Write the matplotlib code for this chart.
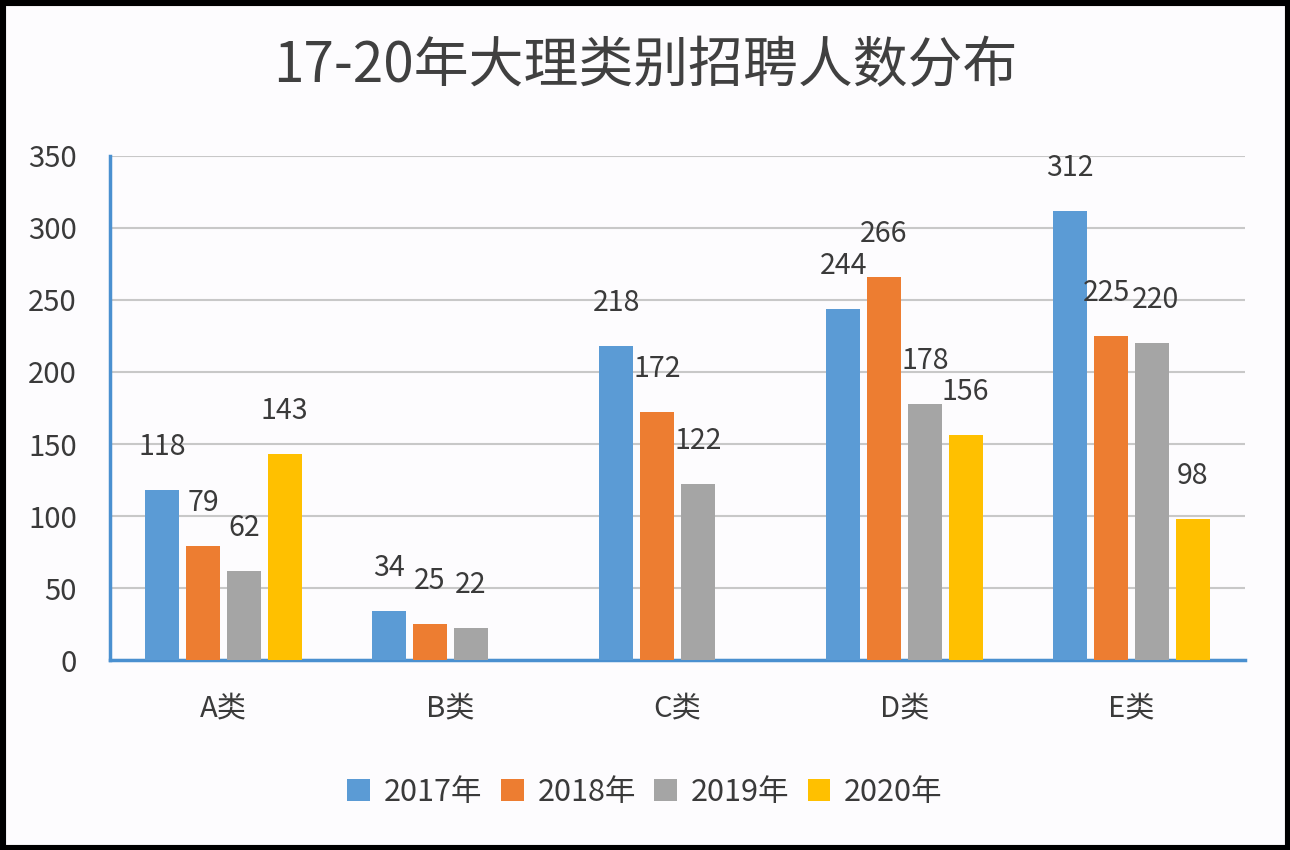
import matplotlib
matplotlib.use("Agg")
import matplotlib.pyplot as plt
import numpy as np

plt.rcParams['font.family'] = ['Noto Sans CJK SC', 'DejaVu Sans']

categories = ["A类", "B类", "C类", "D类", "E类"]
series_names = ["2017年", "2018年", "2019年", "2020年"]
v2017 = [118, 34, 218, 244, 312]
v2018 = [79, 25, 172, 266, 225]
v2019 = [62, 22, 122, 178, 220]
v2020 = [143, None, None, 156, 98]
yticks = [0, 50, 100, 150, 200, 250, 300, 350]
title = "17-20年大理类别招聘人数分布"

colors = ["#5b9bd5", "#ed7d31", "#a5a5a5", "#ffc000"]
series = [v2017, v2018, v2019, v2020]

fig = plt.figure(figsize=(12.9, 8.5), dpi=100)
fig.patch.set_facecolor("#fdfcfe")
ax = fig.add_axes([0.0853, 0.2235, 0.8797, 0.593])
ax.set_facecolor("#fdfcfe")

x = np.arange(len(categories))
slot = 0.18
width = 0.15
text_color = "#3a3a3a"
for i, (vals, c, name) in enumerate(zip(series, colors, series_names)):
    xs = [xi + (i - 1.5) * slot for xi, v in zip(x, vals) if v is not None]
    ys = [v for v in vals if v is not None]
    ax.bar(xs, ys, width=width, color=c, label=name, zorder=3)
    for j, (xx, yy) in enumerate(zip(xs, ys)):
        dx = 0
        # small nudge in the crowded E group so the two labels just meet
        if j == len(xs) - 1 and i == 1:
            dx = -3
        if j == len(xs) - 1 and i == 2:
            dx = 3
        ax.annotate(str(yy), (xx, yy), xytext=(dx, 31), textcoords="offset points",
                    ha="center", va="center", fontsize=20.5, color=text_color, zorder=4)

ax.set_xlim(-0.5, len(categories) - 0.5)
ax.set_ylim(0, 350)
ax.set_yticks(yticks)
ax.set_yticklabels([str(t) for t in yticks], fontsize=21, color=text_color)
ax.set_xticks(x)
ax.set_xticklabels(categories, fontsize=21, color=text_color)
ax.tick_params(axis="y", length=0, pad=24)
ax.tick_params(axis="x", length=0, pad=24)
ax.grid(axis="y", color="#c8c8c8", linewidth=1.5, zorder=0)
for s in ["top", "right"]:
    ax.spines[s].set_visible(False)
for s in ["left", "bottom"]:
    ax.spines[s].set_color("#4a90d0")
    ax.spines[s].set_linewidth(2.5)

fig.text(0.5, 0.922, title, ha="center", va="center", fontsize=39.5, color="#404040")

handles, labels = ax.get_legend_handles_labels()
leg = fig.legend(handles, labels, loc="center", bbox_to_anchor=(0.5, 0.068), ncol=4,
                 frameon=False, fontsize=22, handlelength=0.75, handleheight=0.75,
                 handletextpad=0.45, columnspacing=0.6)
for t in leg.get_texts():
    t.set_color(text_color)

# outer black frame
fig.patches.append(plt.Rectangle((0, 0), 1, 1, transform=fig.transFigure,
                                 fill=False, edgecolor="black", linewidth=8))

fig.savefig("out.png", dpi=100, facecolor=fig.get_facecolor())
